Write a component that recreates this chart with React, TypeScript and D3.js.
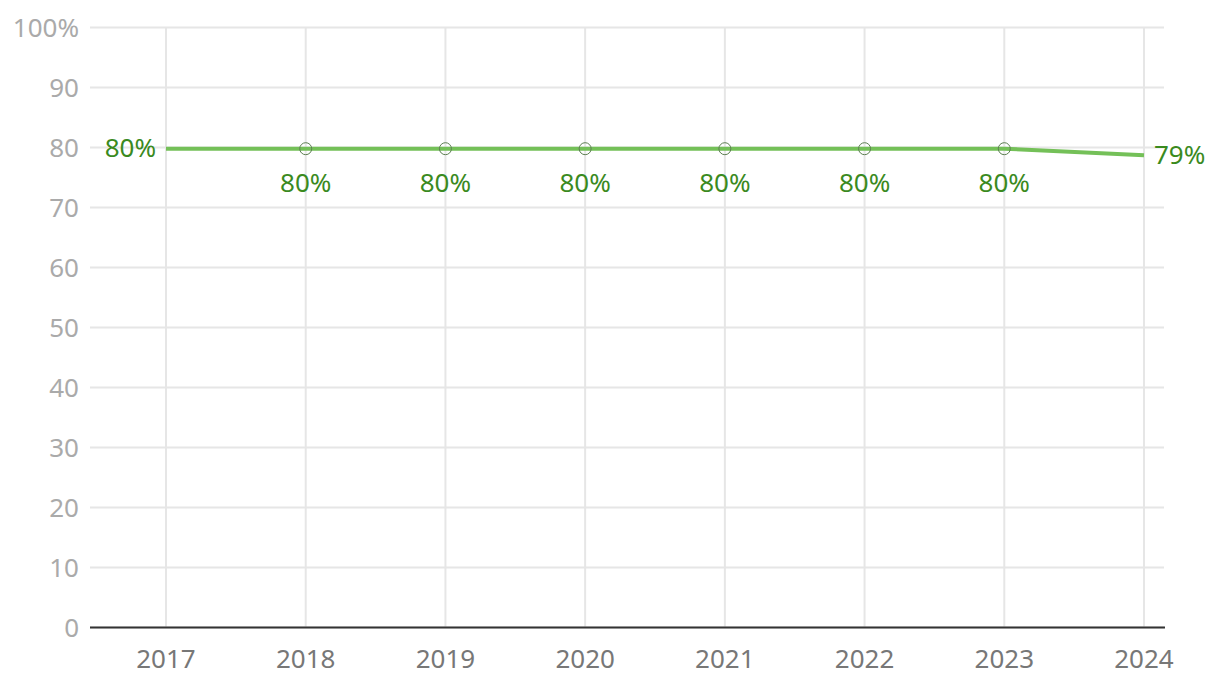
import React from "react";
import * as d3 from "d3";

const years = [2017, 2018, 2019, 2020, 2021, 2022, 2023, 2024];
const values = [79.8, 79.8, 79.8, 79.8, 79.8, 79.8, 79.8, 78.7];
const labels = ["80%", "80%", "80%", "80%", "80%", "80%", "80%", "79%"];
const yTicks = [0, 10, 20, 30, 40, 50, 60, 70, 80, 90, 100];

const W = 1220;
const H = 692;
const left = 90;
const right = 1164;
const top = 27.5;
const bottom = 627.5;
const FONT = "'Noto Sans', sans-serif";

export default function App() {
  const x = d3.scaleLinear().domain([2017, 2024]).range([166, 1144]);
  const y = d3.scaleLinear().domain([0, 100]).range([bottom, top]);
  const line = d3
    .line<number>()
    .x((_, i) => x(years[i]))
    .y((d) => y(d));

  return (
    <svg
      width={W}
      height={H}
      style={{ position: "absolute", left: 0, top: 0, background: "#fff" }}
      fontFamily={FONT}
    >
      {yTicks.map((t) => (
        <line key={"h" + t} x1={left} x2={right} y1={y(t)} y2={y(t)} stroke="#e6e6e6" strokeWidth={2} />
      ))}
      {years.map((yr) => (
        <line key={"v" + yr} x1={x(yr)} x2={x(yr)} y1={top} y2={bottom} stroke="#e6e6e6" strokeWidth={2} />
      ))}
      <line x1={left} x2={right + 1} y1={bottom} y2={bottom} stroke="#333" strokeWidth={2} />
      {yTicks.map((t) => (
        <text
          key={"yl" + t}
          x={79}
          y={y(t)}
          dy="0.35em"
          textAnchor="end"
          fill="#aaaaaa"
          fontSize={26}
        >
          {t === 100 ? "100%" : String(t)}
        </text>
      ))}
      {years.map((yr) => (
        <text key={"xl" + yr} x={x(yr)} y={668} textAnchor="middle" fill="#777777" fontSize={26}>
          {yr}
        </text>
      ))}
      <path d={line(values) || ""} fill="none" stroke="#74c058" strokeWidth={4} />
      {years.map((yr, i) =>
        i > 0 && i < years.length - 1 ? (
          <circle key={"c" + yr} cx={x(yr)} cy={y(values[i])} r={6} fill="none" stroke="#5d7f52" strokeWidth={1} />
        ) : null
      )}
      {years.map((yr, i) => {
        let tx = x(yr);
        let ty = y(values[i]);
        let anchor: "start" | "middle" | "end" = "middle";
        if (i === 0) {
          tx = tx - 10;
          anchor = "end";
          ty = ty - 1;
        } else if (i === years.length - 1) {
          tx = tx + 10;
          anchor = "start";
        } else {
          ty = ty + 34;
        }
        return (
          <text key={"dl" + yr} x={tx} y={ty} dy="0.35em" textAnchor={anchor} fill="#3a8a1e" fontSize={26}>
            {labels[i]}
          </text>
        );
      })}
    </svg>
  );
}
